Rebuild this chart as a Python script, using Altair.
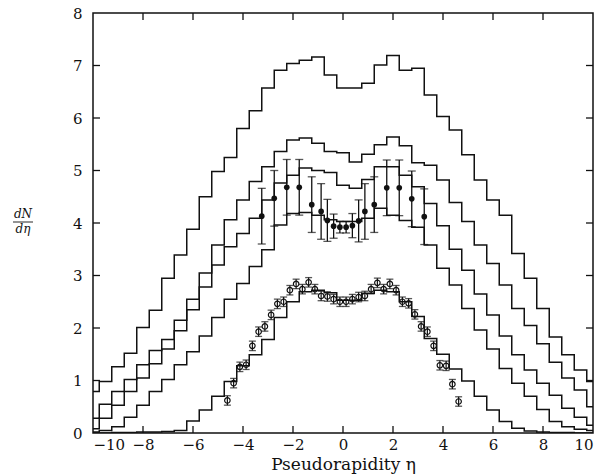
import altair as alt
import pandas as pd

# Bin centres of the simulated pseudorapidity distributions (bin width 0.5)
eta_bins = [-10.0 + 0.5 * i for i in range(41)]

# Simulated dN/deta, one list per histogram (values at eta_bins)
sim_a = [0.79, 0.98, 1.26, 1.52, 2.01, 2.34, 2.95, 3.39, 3.88, 4.50, 4.98,
         5.25, 5.80, 6.14, 6.57, 6.91, 7.04, 7.10, 7.16, 6.82, 6.57,
         6.57, 6.66, 7.01, 7.19, 6.91, 6.95, 6.44, 6.03, 5.77, 5.30,
         4.82, 4.44, 4.15, 3.42, 2.95, 2.37, 1.83, 1.49, 1.20, 0.98]
sim_b = [0.28, 0.55, 0.79, 1.02, 1.30, 1.57, 1.78, 2.15, 2.55, 3.05, 3.58,
         4.06, 4.44, 4.79, 5.07, 5.36, 5.58, 5.62, 5.52, 5.36, 5.34,
         5.16, 5.31, 5.49, 5.64, 5.47, 5.15, 5.10, 4.82, 4.39, 4.03,
         3.58, 3.23, 2.82, 2.37, 2.05, 1.70, 1.35, 1.05, 0.82, 0.50]
sim_c = [0.08, 0.28, 0.53, 0.79, 1.05, 1.32, 1.60, 1.95, 2.35, 2.78, 3.20,
         3.55, 3.80, 4.09, 4.44, 4.76, 4.91, 5.05, 5.00, 4.96, 4.72,
         4.66, 4.83, 5.07, 5.07, 4.91, 4.69, 4.37, 3.95, 3.50, 3.10,
         2.65, 2.25, 1.85, 1.49, 1.20, 0.95, 0.72, 0.47, 0.30, 0.15]
sim_d = [0.02, 0.05, 0.12, 0.30, 0.53, 0.79, 1.02, 1.30, 1.55, 1.85, 2.20,
         2.55, 2.85, 3.17, 3.49, 3.96, 4.18, 4.20, 4.15, 4.06, 4.03,
         4.03, 4.09, 4.28, 4.15, 4.05, 3.92, 3.58, 3.14, 2.82, 2.37,
         1.96, 1.60, 1.23, 0.95, 0.70, 0.45, 0.22, 0.12, 0.07, 0.05]
sim_e = [0.00, 0.00, 0.01, 0.01, 0.02, 0.02, 0.03, 0.05, 0.23, 0.44, 0.70,
         0.98, 1.28, 1.49, 1.78, 2.20, 2.50, 2.69, 2.72, 2.67, 2.53,
         2.53, 2.66, 2.72, 2.69, 2.50, 2.22, 1.80, 1.50, 1.22, 0.99,
         0.70, 0.44, 0.22, 0.09, 0.04, 0.02, 0.01, 0.01, 0.00, 0.00]

# Measured points with large errors (filled circles)
eta_filled = [-3.25, -2.75, -2.25, -1.75, -1.25, -0.875, -0.625, -0.375, -0.125,
              0.125, 0.375, 0.625, 0.875, 1.25, 1.75, 2.25, 2.75, 3.25]
val_filled = [4.13, 4.47, 4.68, 4.68, 4.35, 4.22, 4.05, 3.94, 3.92,
              3.92, 3.95, 4.04, 4.22, 4.35, 4.67, 4.67, 4.46, 4.12]
err_filled = [0.53, 0.53, 0.53, 0.53, 0.53, 0.53, 0.40, 0.23, 0.11,
              0.11, 0.23, 0.40, 0.53, 0.53, 0.53, 0.53, 0.53, 0.53]

# Measured points with small errors (open circles)
eta_open = [-4.625, -4.375, -4.125, -3.875, -3.625, -3.375, -3.125, -2.875,
            -2.625, -2.375, -2.125, -1.875, -1.625, -1.375, -1.125, -0.875,
            -0.625, -0.375, -0.125, 0.125, 0.375, 0.625, 0.875, 1.125, 1.375,
            1.625, 1.875, 2.125, 2.375, 2.625, 2.875, 3.125, 3.375, 3.625,
            3.875, 4.125, 4.375, 4.625]
val_open = [0.62, 0.95, 1.26, 1.30, 1.66, 1.93, 2.03, 2.25, 2.46, 2.50, 2.72,
            2.84, 2.74, 2.87, 2.74, 2.61, 2.60, 2.55, 2.50, 2.50, 2.55, 2.59,
            2.61, 2.74, 2.86, 2.74, 2.84, 2.72, 2.50, 2.47, 2.26, 2.03, 1.93,
            1.66, 1.29, 1.28, 0.93, 0.60]
err_open = [0.09] * 38

x_ticks = [-8, -6, -4, -2, 0, 2, 4, 6, 8]
y_ticks = [1, 2, 3, 4, 5, 6, 7]

W, H = 500, 420
FONT = "DejaVu Serif"
INK = "#111111"

# Histogram outlines: each bin drawn from its left edge, last edge closes it
rows = []
for name, vals in [("a", sim_a), ("b", sim_b), ("c", sim_c), ("d", sim_d), ("e", sim_e)]:
    edges = [c - 0.25 for c in eta_bins] + [eta_bins[-1] + 0.25]
    for x, v in zip(edges, vals + [vals[-1]]):
        rows.append({"curve": name, "eta": x, "dndeta": v})
hist = pd.DataFrame(rows)

filled = pd.DataFrame({"eta": eta_filled, "v": val_filled})
filled["lo"] = [v - e for v, e in zip(val_filled, err_filled)]
filled["hi"] = [v + e for v, e in zip(val_filled, err_filled)]

opened = pd.DataFrame({"eta": eta_open, "v": val_open})
opened["lo"] = [v - e for v, e in zip(val_open, err_open)]
opened["hi"] = [v + e for v, e in zip(val_open, err_open)]

xs = alt.Scale(domain=[-10, 10], nice=False, zero=False)
ys = alt.Scale(domain=[0, 8], nice=False, zero=False)

x_axis = alt.Axis(values=list(range(-10, 11, 2)), tickSize=0, domain=False, grid=False,
                  labelFont=FONT, labelFontSize=15, labelColor=INK, labelPadding=4,
                  title="Pseudorapidity η", titleFont=FONT, titleFontSize=17,
                  titleFontWeight="normal", titleColor=INK, titlePadding=4)
y_axis = alt.Axis(values=list(range(0, 9)), tickSize=0, domain=False, grid=False,
                  labelFont=FONT, labelFontSize=15, labelColor=INK, labelPadding=11,
                  title=None)


def X(field):
    return alt.X(field, type="quantitative", scale=xs, axis=x_axis)


def Y(field):
    return alt.Y(field, type="quantitative", scale=ys, axis=y_axis)


lines = alt.Chart(hist).mark_line(
    interpolate="step-after", color=INK, strokeWidth=1.5, clip=True
).encode(x=X("eta"), y=Y("dndeta"), detail="curve:N")

# filled points with error bars
f_bar = alt.Chart(filled).mark_rule(color=INK, strokeWidth=1.3).encode(
    x=X("eta"), y=Y("lo"), y2="hi")
f_cap_hi = alt.Chart(filled).mark_tick(orient="horizontal", color=INK, size=8, thickness=1.3).encode(
    x=X("eta"), y=Y("hi"))
f_cap_lo = alt.Chart(filled).mark_tick(orient="horizontal", color=INK, size=8, thickness=1.3).encode(
    x=X("eta"), y=Y("lo"))
f_pts = alt.Chart(filled).mark_circle(color=INK, size=32, opacity=1).encode(
    x=X("eta"), y=Y("v"))

# open points with error bars
o_pts = alt.Chart(opened).mark_point(shape="circle", filled=False, stroke=INK, strokeWidth=1.2,
                                     size=30, opacity=1).encode(x=X("eta"), y=Y("v"))
o_bar = alt.Chart(opened).mark_rule(color=INK, strokeWidth=1.2).encode(
    x=X("eta"), y=Y("lo"), y2="hi")
o_cap_hi = alt.Chart(opened).mark_tick(orient="horizontal", color=INK, size=7, thickness=1.3).encode(
    x=X("eta"), y=Y("hi"))
o_cap_lo = alt.Chart(opened).mark_tick(orient="horizontal", color=INK, size=7, thickness=1.3).encode(
    x=X("eta"), y=Y("lo"))

# inward tick marks on all four sides of the frame
xt = pd.DataFrame({"t": x_ticks})
yt = pd.DataFrame({"t": y_ticks})
tick_style = dict(color=INK, strokeWidth=1.3)
t_bottom = alt.Chart(xt).mark_rule(**tick_style).encode(
    x=X("t"), y=alt.value(H), y2=alt.value(H - 7))
t_top = alt.Chart(xt).mark_rule(**tick_style).encode(
    x=X("t"), y=alt.value(0), y2=alt.value(7))
t_left = alt.Chart(yt).mark_rule(**tick_style).encode(
    y=Y("t"), x=alt.value(0), x2=alt.value(7))
t_right = alt.Chart(yt).mark_rule(**tick_style).encode(
    y=Y("t"), x=alt.value(W), x2=alt.value(W - 7))

# y-axis title as a fraction dN / dη
num = alt.Chart(pd.DataFrame({"s": ["dN"]})).mark_text(
    font=FONT, fontSize=12, fontStyle="italic", color=INK, baseline="alphabetic"
).encode(text="s:N", x=alt.value(-70), y=alt.value(205))
den = alt.Chart(pd.DataFrame({"s": ["dη"]})).mark_text(
    font=FONT, fontSize=12, fontStyle="italic", color=INK, baseline="alphabetic"
).encode(text="s:N", x=alt.value(-70), y=alt.value(220))
bar = alt.Chart(pd.DataFrame({"s": ["-"]})).mark_rule(color=INK, strokeWidth=0.9).encode(
    x=alt.value(-80), x2=alt.value(-60), y=alt.value(209))

chart = alt.layer(
    lines, t_bottom, t_top, t_left, t_right,
    f_bar, f_cap_hi, f_cap_lo, f_pts,
    o_pts, o_bar, o_cap_hi, o_cap_lo,
    num, bar, den,
).properties(
    width=W, height=H,
    autosize=alt.AutoSizeParams(type="none"),
    padding={"left": 93, "top": 13, "right": 14, "bottom": 42},
    background="white",
).configure_view(stroke=INK, strokeWidth=1.5)

chart.save("out.html", embed_options={"renderer": "svg", "actions": False})
